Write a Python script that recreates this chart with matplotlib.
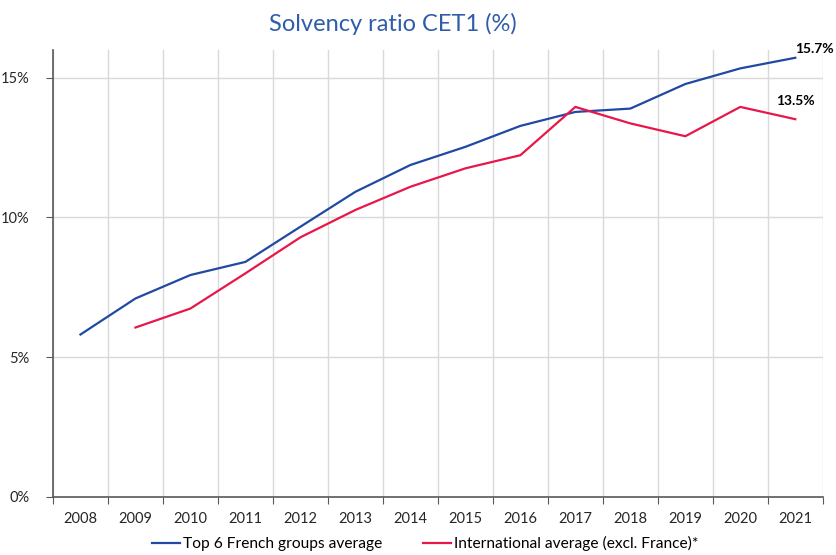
import matplotlib
matplotlib.use("Agg")
import matplotlib.pyplot as plt
from matplotlib.ticker import FixedLocator, FuncFormatter

plt.rcParams['font.family'] = ['Lato', 'DejaVu Sans']

years = ['2008', '2009', '2010', '2011', '2012', '2013', '2014',
         '2015', '2016', '2017', '2018', '2019', '2020', '2021']
# CET1 ratios in %
french_top6 = [5.81, 7.10, 7.94, 8.41, 9.67, 10.92, 11.88,
               12.53, 13.28, 13.78, 13.90, 14.78, 15.34, 15.72]
intl_avg = [None, 6.06, 6.74, 8.00, 9.29, 10.27, 11.10,
            11.76, 12.23, 13.96, 13.37, 12.91, 13.96, 13.52]

blue = '#2149A3'
red = '#E8174A'
axis_col = '#595959'
grid_col = '#D9D9D9'

fig = plt.figure(figsize=(8.37, 5.55), dpi=100)
ax = fig.add_axes([0.0633, 0.105, 0.9197, 0.805])

x = list(range(len(years)))
ax.plot(x, french_top6, color=blue, lw=1.6, label='Top 6 French groups average')
xi = [i for i, v in enumerate(intl_avg) if v is not None]
yi = [v for v in intl_avg if v is not None]
ax.plot(xi, yi, color=red, lw=1.6, label='International average (excl. France)*')

ax.annotate(f'{french_top6[-1]:.1f}%', (x[-1], french_top6[-1]), xytext=(0, 2),
            textcoords='offset points', fontsize=10, fontweight='bold', ha='left', va='bottom')
ax.annotate(f'{intl_avg[-1]:.1f}%', (x[-1], intl_avg[-1]), xytext=(-14, 9),
            textcoords='offset points', fontsize=10, fontweight='bold', ha='left', va='bottom')

ax.set_xlim(-0.5, len(years) - 0.5)
ax.set_ylim(0, 16)

# category axis: ticks and grid at boundaries, labels at centres
ax.xaxis.set_major_locator(FixedLocator([i - 0.5 for i in range(len(years) + 1)]))
ax.xaxis.set_minor_locator(FixedLocator(x))
ax.set_xticklabels([], minor=False)
ax.set_xticklabels(years, minor=True)
ax.tick_params(axis='x', which='major', length=5, color=axis_col, direction='out')
ax.tick_params(axis='x', which='minor', length=0, pad=11, labelsize=10.5, labelcolor='#262626')

ax.set_yticks([0, 5, 10, 15])
ax.yaxis.set_major_formatter(FuncFormatter(lambda v, p: f'{v:.0f}%'))
ax.tick_params(axis='y', length=5, color=axis_col, labelsize=10.5, labelcolor='#262626', pad=12)

ax.grid(True, axis='both', which='major', color=grid_col, lw=1)
ax.set_axisbelow(True)
for s in ['top', 'right']:
    ax.spines[s].set_visible(False)
for s in ['left', 'bottom']:
    ax.spines[s].set_color(axis_col)
    ax.spines[s].set_linewidth(1.2)

fig.text(0.469, 0.957, 'Solvency ratio CET1 (%)', color='#2F5DAA', fontsize=17,
         ha='center', va='center')

fig.legend(loc='lower center', bbox_to_anchor=(0.508, -0.018), ncol=2, frameon=False,
           fontsize=11.2, handlelength=1.8, handletextpad=0.2, columnspacing=2.6)

fig.savefig('out.png', dpi=100)
